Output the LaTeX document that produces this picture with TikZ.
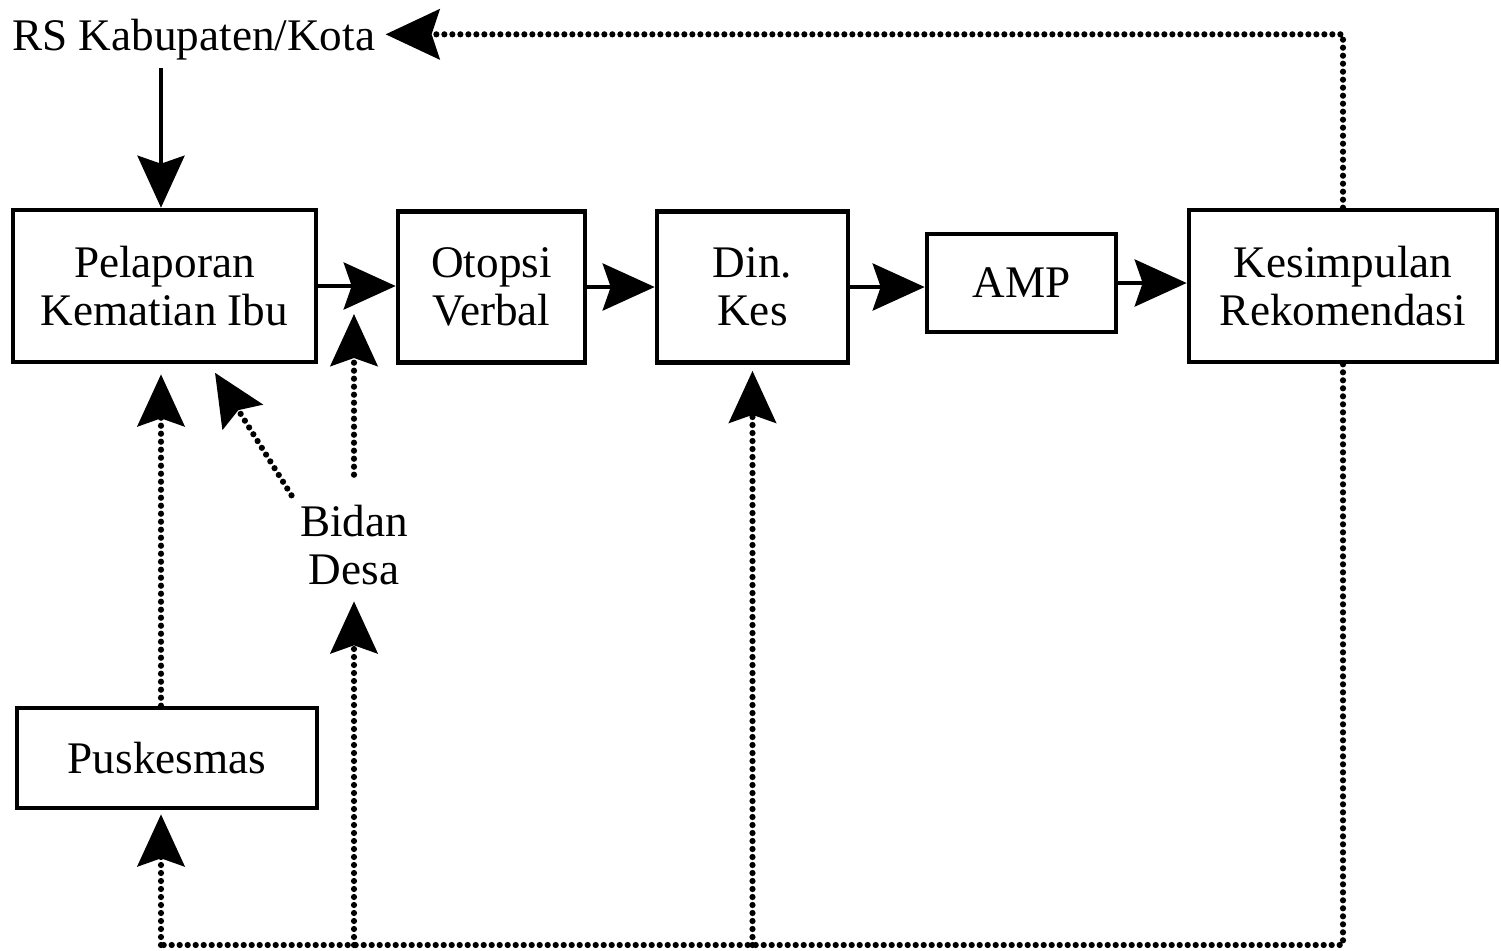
\documentclass[tikz,border=0pt]{standalone}
\usepackage{fontspec}
\setmainfont{Liberation Serif}
\usetikzlibrary{arrows.meta,calc}

\begin{document}
\begin{tikzpicture}[x=0.5pt,y=-0.5pt,
  txt/.style={font=\fontsize{22.6}{24}\selectfont, align=center},
  box/.style={txt, draw, line width=2.3pt, inner sep=0pt},
  ahead/.tip={Stealth[length=26pt,width=23.5pt,inset=4pt]},
  bighead/.tip={Stealth[length=27pt,width=25pt,inset=4pt]},
  arr/.style={line width=2.1pt, -ahead},
  dots/.style={line width=3.1pt, line cap=round, dash pattern=on 0pt off 4pt},
  darr/.style={dots, -ahead},
]
\useasboundingbox (0,0) rectangle (1501,950);

% boxes of the main chain
\node[box, minimum width=151.5pt, minimum height=76pt] (pel) at (164.5,286) {Pelaporan\\Kematian Ibu};
\node[box, minimum width=93.5pt, minimum height=75.5pt] (oto) at (491.5,287) {Otopsi\\Verbal};
\node[box, minimum width=95.5pt, minimum height=75.5pt] (din) at (752.5,287) {Din.\\Kes};
\node[box, minimum width=94.5pt, minimum height=49pt] (amp) at (1021.5,283) {AMP};
\node[box, minimum width=154pt, minimum height=76pt] (kes) at (1343,286) {Kesimpulan\\Rekomendasi};
\node[box, minimum width=150pt, minimum height=50pt] (pus) at (167,758) {Puskesmas};

% free labels
\node[txt, anchor=base west, inner sep=0pt, text depth=0pt] (rs) at (12,50) {RS Kabupaten/Kota};
\node[txt, inner sep=3pt] (bid) at (354,545) {Bidan\\Desa};

% helper coordinates for the routed lines
\coordinate (colA) at (161,0);
\coordinate (bl) at (161,945);
\coordinate (br) at (1343,945);
\coordinate (bidtip) at (354,314);

% solid flow
\draw[arr, shorten <=9pt] (rs.south -| colA) -- (pel.north -| colA);
\draw[arr] (pel.east) -- (pel.east -| oto.west);
\draw[arr] (oto.east) -- (oto.east -| din.west);
\draw[arr] (din.east) -- (din.east -| amp.west);
\draw[arr] (amp.east) -- (amp.east -| kes.west);

% feedback to the hospital
\draw[dots, -bighead, shorten >=5pt] (kes.north) |- (rs.east);

% feedback along the bottom
\draw[dots] (kes.south) -- (br) -- (bl);
\draw[darr, shorten >=2pt] (bl) -- (pus.south -| bl);
\draw[darr, shorten >=5pt] (bl -| bid.south) -- (bid.south);
\draw[darr, shorten >=3pt] (bl -| din.south) -- (din.south);

% reports into Pelaporan
\draw[darr, shorten >=5pt] (pus.north -| colA) -- (pel.south -| colA);
\draw[darr, shorten <=2pt, shorten >=5pt] (bid.north west) -- (pel.-60);
\draw[darr, shorten <=12pt] (bid.north) -- (bidtip);
\end{tikzpicture}
\end{document}
